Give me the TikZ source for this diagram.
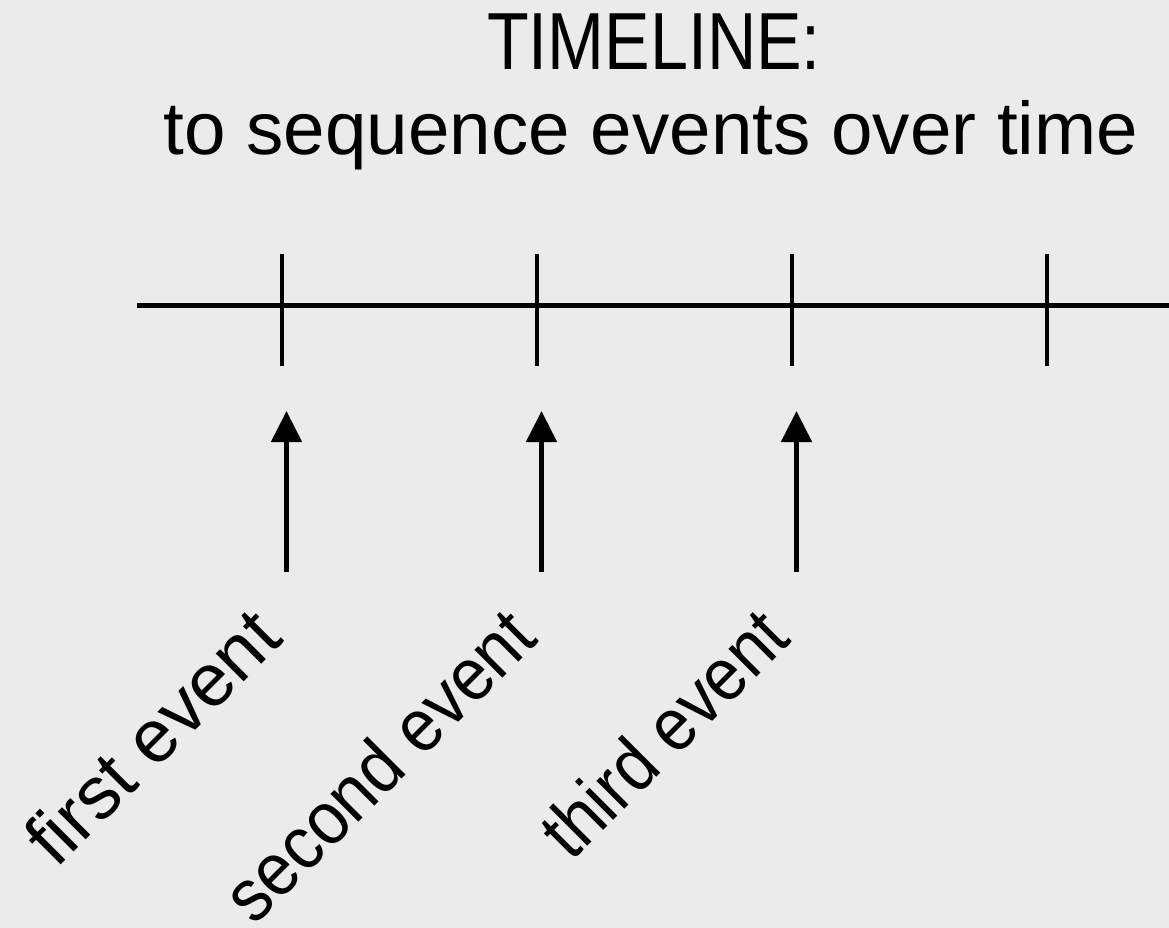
\documentclass[tikz,border=0pt]{standalone}
\usepackage{fontspec}
\setmainfont{Liberation Sans}
\usetikzlibrary{arrows.meta}
\definecolor{bgcol}{RGB}{235,235,235}
\tikzset{
  axisline/.style={line width=5pt, black},
  tickline/.style={line width=4.5pt, black},
  evarrow/.style={line width=5pt, black, -{Triangle[length=31pt,width=30pt]}},
  lbl/.style={inner sep=0pt, outer sep=0pt, font=\fontsize{74.6}{80}\selectfont, rotate=45, anchor=base east},
  titletext/.style={inner sep=0pt, outer sep=0pt, anchor=base}
}
\begin{document}
\begin{tikzpicture}[x=1pt,y=-1pt]
\useasboundingbox (0,0) rectangle (1169,928);
\fill[bgcol] (0,0) rectangle (1169,928);
% title
\node[titletext] (title) at (654,70) {\scalebox{0.843}[1]{\fontsize{81}{90}\selectfont TIMELINE:}};
\node[titletext] (subtitle) at (651,154.3) {\fontsize{74.6}{80}\selectfont to sequence events over time};
% axis
\coordinate (axL) at (136.7,305.5);
\coordinate (axR) at (1169,305.5);
\draw[axisline] (axL) -- (axR);
% ticks
\foreach \i/\x in {1/282,2/537,3/792,4/1047}{
  \coordinate (tt\i) at (\x,254);
  \coordinate (tb\i) at (\x,366);
  \draw[tickline] (tt\i) -- (tb\i);
}
% arrows
\foreach \i/\x in {1/286.5,2/541.5,3/796.5}{
  \coordinate (as\i) at (\x,572);
  \coordinate (ae\i) at (\x,411);
  \draw[evarrow] (as\i) -- (ae\i);
}
% labels
\node[lbl] (l1) at (285,641) {first event};
\node[lbl] (l2) at (540,641) {\scalebox{0.91}[1]{second event}};
\node[lbl] (l3) at (793,641) {\scalebox{0.9}[1]{third event}};
\end{tikzpicture}
\end{document}
